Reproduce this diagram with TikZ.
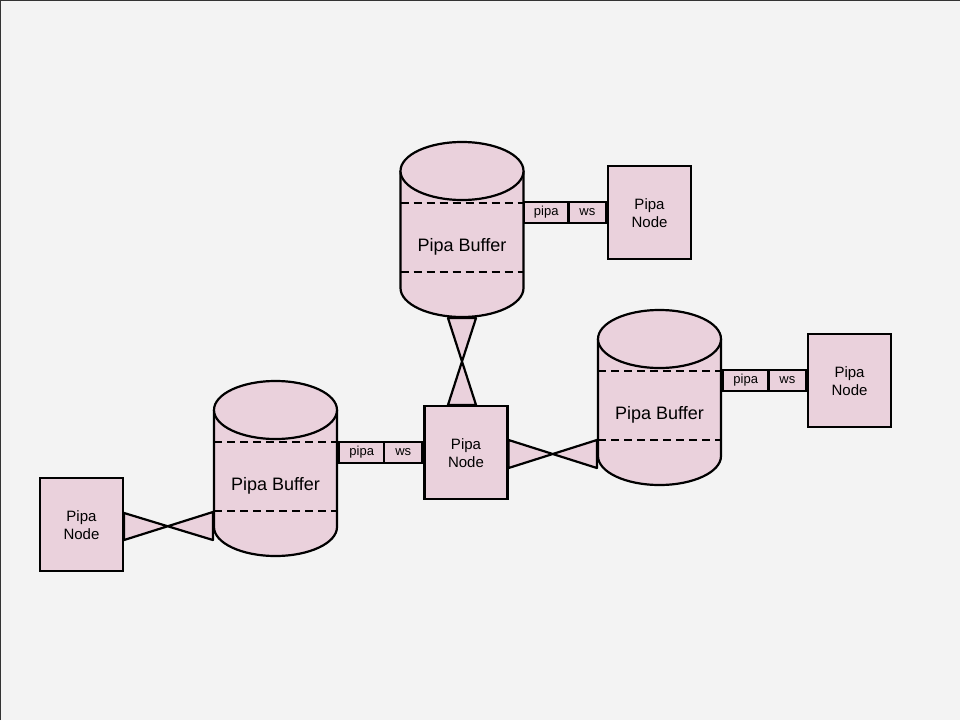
\documentclass[tikz,border=0pt]{standalone}
\usepackage{fontspec}
\setmainfont{Liberation Sans}
\usetikzlibrary{calc}
\definecolor{pinkfill}{HTML}{EAD1DC}
\definecolor{bgcol}{HTML}{F3F3F3}
\newcommand{\drawbuffer}[3]{%
  % #1 name, #2 centre x, #3 top y
  \fill[pinkfill] ({#2-61.5},{#3+29}) -- ({#2-61.5},{#3+146})
    arc[start angle=180,end angle=0,x radius=61.5,y radius=29] -- ({#2+61.5},{#3+29}) -- cycle;
  \draw[bufdash] ({#2-61.5},{#3+61}) -- ({#2+61.5},{#3+61});
  \draw[bufdash] ({#2-61.5},{#3+130}) -- ({#2+61.5},{#3+130});
  \draw[line join=round] ({#2-61.5},{#3+29}) -- ({#2-61.5},{#3+146})
    arc[start angle=180,end angle=0,x radius=61.5,y radius=29] -- ({#2+61.5},{#3+29});
  \draw[fill=pinkfill] ({#2},{#3+29}) ellipse[x radius=61.5,y radius=29];
  \node[minimum width=123pt,minimum height=175pt,inner sep=0pt] (#1) at ({#2},{#3+87.5}) {};
  \node[buflabel] (#1-label) at ({#2},{#3+104.5}) {Pipa Buffer};
}
\newcommand{\tiecross}[4]{%
  % #1,#2 one end ; #3,#4 other end (#1 facing #3)
  \draw[fill=pinkfill,line join=round] (#1) -- (#4) -- (#3) -- (#2) -- cycle;
}
\begin{document}
\begin{tikzpicture}[x=1pt,y=-1pt,line width=2.2pt,
  pnode/.style={draw=black,fill=pinkfill,minimum width=83pt,minimum height=93pt,
    inner sep=0pt,align=center,font=\fontsize{15}{18}\selectfont},
  ntext/.style={inner sep=0pt,align=center,font=\fontsize{15}{18}\selectfont},
  tagbox/.style={draw=black,fill=pinkfill,minimum height=21pt,inner sep=0pt,
    font=\fontsize{13}{15}\selectfont},
  buflabel/.style={inner sep=0pt,font=\fontsize{18}{21}\selectfont},
  bufdash/.style={dash pattern=on 8pt off 5pt}]
\useasboundingbox (0,0) rectangle (960,720);
\fill[bgcol] (0,0) rectangle (960,720);
\draw[line width=1.2pt,black!80] (0.6,720) -- (0.6,0.6) -- (960,0.6);

% Pipa nodes
\node[pnode] (n1) at (649.5,212.5) {};
\node[pnode] (n2) at (849.5,380.5) {};
\node[pnode] (cn) at (466,452.5) {};
\node[pnode] (ln) at (81.5,524.5) {};

% invisible placeholders for buffers (for connector coordinates)
\path (462,229.5) node[minimum width=123pt,minimum height=175pt,inner sep=0pt] (b1ph) {};
\path (659.5,397.5) node[minimum width=123pt,minimum height=175pt,inner sep=0pt] (b2ph) {};
\path (275.5,468.5) node[minimum width=123pt,minimum height=175pt,inner sep=0pt] (b3ph) {};

% bowtie connectors
\coordinate (t1) at ($(b1ph.south)+(-14,0)$);
\coordinate (t2) at ($(b1ph.south)+(14,0)$);
\coordinate (t3) at (t1 |- cn.north);
\coordinate (t4) at (t2 |- cn.north);
\tiecross{t1}{t2}{t3}{t4}

\coordinate (r1) at ($(cn.east)+(0,-12.5)$);
\coordinate (r2) at ($(cn.east)+(0,15.5)$);
\coordinate (r3) at (r1 -| b2ph.west);
\coordinate (r4) at (r2 -| b2ph.west);
\tiecross{r1}{r2}{r3}{r4}

\coordinate (l1) at ($(ln.east)+(0,-11.5)$);
\coordinate (l2) at ($(ln.east)+(0,15.5)$);
\coordinate (l3) at ($(l1 -| b3ph.west)+(0,-1)$);
\coordinate (l4) at (l2 -| b3ph.west);
\tiecross{l1}{l2}{l3}{l4}

% buffers
\drawbuffer{b1}{462}{142}
\drawbuffer{b2}{659.5}{310}
\drawbuffer{b3}{275.5}{381}

% pipa / ws tags
\node[tagbox,minimum width=44pt,anchor=west] (p1) at ($(b1.east |- n1.west)+(-1.5,0)$) {pipa};
\node[tagbox,minimum width=37pt,anchor=east] (w1) at (n1.west) {ws};
\node[tagbox,minimum width=45pt,anchor=west] (p2) at (b2.east |- n2.west) {pipa};
\node[tagbox,minimum width=37pt,anchor=east] (w2) at (n2.west) {ws};
\node[tagbox,minimum width=45pt,anchor=west] (p3) at (b3.east |- cn.west) {pipa};
\node[tagbox,minimum width=38pt,anchor=east] (w3) at (cn.west) {ws};

% redraw nodes on top so their borders are crisp, with labels
\node[pnode] at (n1) {};
\node[pnode] at (n2) {};
\node[pnode] at (cn) {};
\node[pnode] at (ln) {};
\node[ntext] (n1-label) at ($(n1)+(0,1)$) {Pipa\\Node};
\node[ntext] (n2-label) at ($(n2)+(0,1)$) {Pipa\\Node};
\node[ntext] (cn-label) at ($(cn)+(0,1)$) {Pipa\\Node};
\node[ntext] (ln-label) at ($(ln)+(0,1)$) {Pipa\\Node};
\end{tikzpicture}
\end{document}
